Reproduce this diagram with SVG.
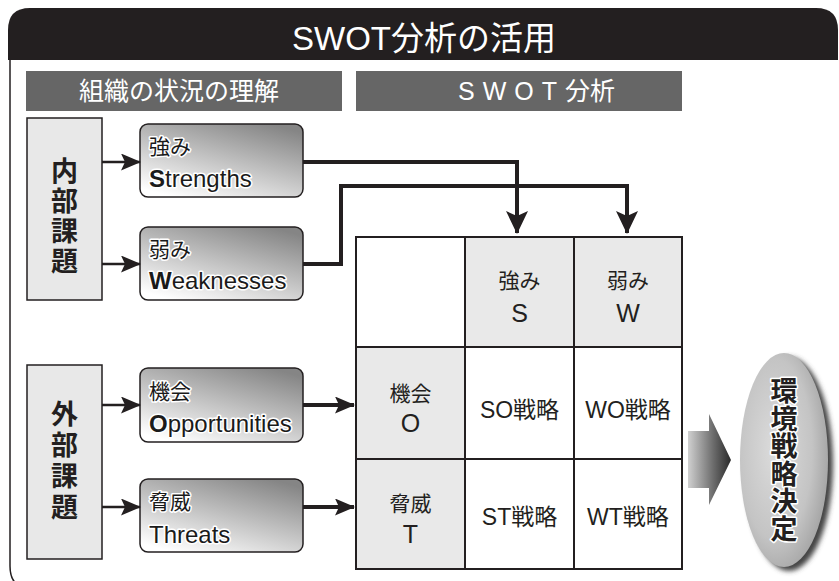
<svg xmlns="http://www.w3.org/2000/svg" width="839" height="581" viewBox="0 0 839 581">
<defs>
<style>
.jp{font-family:"Liberation Sans","Noto Sans CJK JP",sans-serif;}
.hdr{fill:#fff;font-size:25px;}
.side{fill:#e8e8e8;stroke:#231f20;stroke-width:1.5;}
.node{fill:url(#ng);stroke:#231f20;stroke-width:1.5;}
.nt{fill:#1a1a1a;stroke:#fff;stroke-width:3;paint-order:stroke;stroke-linejoin:round;}
.vt{font-size:27px;font-weight:bold;fill:#231f20;text-anchor:middle;}
.cell{stroke:#231f20;stroke-width:2;}
.ct{fill:#231f20;text-anchor:middle;}
.thin{stroke:#231f20;stroke-width:2.5;fill:none;}
.thick{stroke:#231f20;stroke-width:4;fill:none;}
</style>
<linearGradient id="ng" x1="0.2" y1="1" x2="0.8" y2="0">
<stop offset="0" stop-color="#ffffff"/>
<stop offset="0.45" stop-color="#c8c8c8"/>
<stop offset="1" stop-color="#858585"/>
</linearGradient>
<linearGradient id="ag" x1="0" y1="0" x2="1" y2="0">
<stop offset="0" stop-color="#d0d0d0"/>
<stop offset="0.6" stop-color="#6a6a6a"/>
<stop offset="1" stop-color="#2a2a2a"/>
</linearGradient>
<radialGradient id="eg" cx="0.4" cy="0.45" r="0.6">
<stop offset="0" stop-color="#dcdcdc"/>
<stop offset="0.7" stop-color="#c4c4c4"/>
<stop offset="1" stop-color="#a8a8a8"/>
</radialGradient>
<filter id="blur" x="-20%" y="-20%" width="140%" height="140%">
<feGaussianBlur stdDeviation="2.5"/>
</filter>
<marker id="ah" markerUnits="userSpaceOnUse" markerWidth="20" markerHeight="17" refX="19" refY="8.5" orient="auto">
<path d="M0,0 L20,8.5 L0,17 L4,8.5 Z" fill="#231f20"/>
</marker>
<marker id="ahb" markerUnits="userSpaceOnUse" markerWidth="23" markerHeight="22" refX="22" refY="11" orient="auto">
<path d="M0,0 L23,11 L0,22 L5,11 Z" fill="#231f20"/>
</marker>
</defs>

<g id="frame">
<path d="M10,60 V566 Q10,588 30,588" fill="none" stroke="#231f20" stroke-width="1.5"/>
<path d="M8,60 V30 Q8,8 30,8 H816 Q838,8 838,30 V60 Z" fill="#231f20"/>
<text class="jp" x="424" y="50" font-size="33" fill="#fff" text-anchor="middle">SWOT分析の活用</text>
</g>

<g id="header-left">
<rect x="26" y="71" width="316" height="40" fill="#666"/>
<text class="jp hdr" x="179" y="100" text-anchor="middle">組織の状況の理解</text>
</g>
<g id="header-right">
<rect x="356" y="71" width="326" height="40" fill="#666"/>
<text class="jp hdr" x="458" y="100" font-size="24"><tspan letter-spacing="8">SWOT</tspan><tspan>分析</tspan></text>
</g>

<g id="internal">
<rect class="side" x="27" y="118" width="75" height="182"/>
<text class="jp vt"><tspan x="64.5" y="181">内</tspan><tspan x="64.5" y="211">部</tspan><tspan x="64.5" y="241">課</tspan><tspan x="64.5" y="271">題</tspan></text>
</g>
<g id="external">
<rect class="side" x="27" y="365" width="75" height="194"/>
<text class="jp vt"><tspan x="64.5" y="424">外</tspan><tspan x="64.5" y="455">部</tspan><tspan x="64.5" y="486">課</tspan><tspan x="64.5" y="517">題</tspan></text>
</g>

<g id="strengths">
<rect class="node" x="140" y="124" width="163" height="73" rx="8"/>
<text class="jp nt" x="149" y="154" font-size="21">強み</text>
<text class="jp nt" x="149" y="187" font-size="24"><tspan font-weight="bold">S</tspan>trengths</text>
</g>
<g id="weaknesses">
<rect class="node" x="140" y="227" width="163" height="73" rx="8"/>
<text class="jp nt" x="149" y="257" font-size="21">弱み</text>
<text class="jp nt" x="149" y="289" font-size="24"><tspan font-weight="bold">W</tspan>eaknesses</text>
</g>
<g id="opportunities">
<rect class="node" x="140" y="368" width="163" height="74" rx="8"/>
<text class="jp nt" x="149" y="399" font-size="21">機会</text>
<text class="jp nt" x="149" y="432" font-size="24"><tspan font-weight="bold">O</tspan>pportunities</text>
</g>
<g id="threats">
<rect class="node" x="140" y="479" width="163" height="73" rx="8"/>
<text class="jp nt" x="149" y="509" font-size="21">脅威</text>
<text class="jp nt" x="149" y="543" font-size="24">Threats</text>
</g>

<g id="matrix">
<rect class="cell" x="356" y="237" width="109" height="110" fill="#fff"/>
<rect class="cell" x="465" y="237" width="109" height="110" fill="#e9e9e9"/>
<rect class="cell" x="574" y="237" width="108" height="110" fill="#e9e9e9"/>
<rect class="cell" x="356" y="347" width="109" height="112" fill="#e9e9e9"/>
<rect class="cell" x="465" y="347" width="109" height="112" fill="#fff"/>
<rect class="cell" x="574" y="347" width="108" height="112" fill="#fff"/>
<rect class="cell" x="356" y="459" width="109" height="110" fill="#e9e9e9"/>
<rect class="cell" x="465" y="459" width="109" height="110" fill="#fff"/>
<rect class="cell" x="574" y="459" width="108" height="110" fill="#fff"/>
<text class="jp ct" x="519.5" y="288" font-size="21">強み</text>
<text class="jp ct" x="519.5" y="322" font-size="25">S</text>
<text class="jp ct" x="628" y="288" font-size="21">弱み</text>
<text class="jp ct" x="628" y="322" font-size="25">W</text>
<text class="jp ct" x="410.5" y="401" font-size="21">機会</text>
<text class="jp ct" x="410.5" y="432" font-size="25">O</text>
<text class="jp ct" x="410.5" y="511" font-size="21">脅威</text>
<text class="jp ct" x="410.5" y="543" font-size="25">T</text>
<text class="jp ct" x="519.5" y="418" font-size="23">SO戦略</text>
<text class="jp ct" x="628" y="418" font-size="23">WO戦略</text>
<text class="jp ct" x="519.5" y="525" font-size="23">ST戦略</text>
<text class="jp ct" x="628" y="525" font-size="23">WT戦略</text>
</g>

<g id="decision">
<ellipse cx="789" cy="464" rx="44" ry="107" fill="#444" filter="url(#blur)"/>
<ellipse cx="784" cy="460" rx="44" ry="107" fill="url(#eg)"/>
<text class="jp vt nt" font-size="24"><tspan x="784" y="401">環</tspan><tspan x="784" y="428.5">境</tspan><tspan x="784" y="456">戦</tspan><tspan x="784" y="483.5">略</tspan><tspan x="784" y="511">決</tspan><tspan x="784" y="538.5">定</tspan></text>
</g>

<g id="connectors">
<line class="thin" x1="102" y1="162" x2="140" y2="162" marker-end="url(#ah)"/>
<line class="thin" x1="102" y1="264" x2="140" y2="264" marker-end="url(#ah)"/>
<line class="thin" x1="102" y1="405" x2="140" y2="405" marker-end="url(#ah)"/>
<line class="thin" x1="102" y1="507" x2="140" y2="507" marker-end="url(#ah)"/>
<path class="thick" d="M303,162 H517 V233" marker-end="url(#ahb)"/>
<path class="thick" d="M303,264 H341 V186 H627 V233" marker-end="url(#ahb)"/>
<line class="thick" x1="303" y1="405" x2="354" y2="405" marker-end="url(#ah)"/>
<line class="thick" x1="303" y1="507" x2="354" y2="507" marker-end="url(#ah)"/>
<polygon points="688,431 709,431 709,414 731,460 709,505 709,488 688,488" fill="url(#ag)"/>
</g>
</svg>
